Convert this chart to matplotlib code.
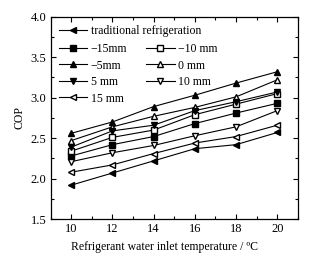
import matplotlib
matplotlib.use("Agg")
import matplotlib.pyplot as plt
from matplotlib.ticker import MultipleLocator

plt.rcParams["font.family"] = "Liberation Serif"
plt.rcParams["font.size"] = 8

temps = [10, 12, 14, 16, 18, 20]

cop_trad = [1.92, 2.07, 2.22, 2.37, 2.42, 2.57]
cop_m15 = [2.28, 2.42, 2.52, 2.68, 2.81, 2.93]
cop_m10 = [2.34, 2.51, 2.60, 2.79, 2.92, 3.05]
cop_m5 = [2.56, 2.70, 2.89, 3.03, 3.18, 3.32]
cop_0 = [2.47, 2.64, 2.77, 2.88, 3.01, 3.22]
cop_5 = [2.39, 2.59, 2.66, 2.84, 2.95, 3.07]
cop_10 = [2.21, 2.32, 2.41, 2.53, 2.64, 2.84]
cop_15 = [2.08, 2.17, 2.31, 2.44, 2.52, 2.66]

labels = ["\u221215mm", "\u221210 mm", "\u22125mm", "0 mm", "5 mm", "10 mm", "15 mm"]

fig = plt.figure(figsize=(3.31, 2.60), dpi=100)
ax = fig.add_axes([0.153, 0.157, 0.747, 0.779])

kw = dict(color="black", lw=0.8, ms=4.5)
(h_trad,) = ax.plot(temps, cop_trad, marker="<", mfc="black", **kw)
(h_m15,) = ax.plot(temps, cop_m15, marker="s", mfc="black", **dict(kw, ms=4))
(h_m10,) = ax.plot(temps, cop_m10, marker="s", mfc="white", **dict(kw, ms=4))
(h_m5,) = ax.plot(temps, cop_m5, marker="^", mfc="black", **kw)
(h_0,) = ax.plot(temps, cop_0, marker="^", mfc="white", **kw)
(h_5,) = ax.plot(temps, cop_5, marker="v", mfc="black", **kw)
(h_10,) = ax.plot(temps, cop_10, marker="v", mfc="white", **kw)
(h_15,) = ax.plot(temps, cop_15, marker="<", mfc="white", **kw)

ax.set_xlim(9, 21)
ax.set_ylim(1.5, 4.0)
ax.xaxis.set_major_locator(MultipleLocator(2))
ax.xaxis.set_minor_locator(MultipleLocator(1))
ax.yaxis.set_minor_locator(MultipleLocator(0.25))
ax.set_yticks([1.5, 2.0, 2.5, 3.0, 3.5, 4.0])
ax.set_yticklabels(["1.5", "2.0", "2.5", "3.0", "3.5", "4.0"])
ax.tick_params(which="both", direction="in", top=True, right=True, labelsize=9, pad=3)
ax.tick_params(which="major", length=3.5, width=0.8)
ax.tick_params(which="minor", length=2, width=0.8)
for s in ax.spines.values():
    s.set_linewidth(0.9)

ax.set_xlabel("Refrigerant water inlet temperature / \u00baC", fontsize=8.5)
ax.xaxis.set_label_coords(0.462, -0.11)
ax.set_ylabel("COP", fontsize=8.5, labelpad=4)

leg1 = ax.legend([h_trad], ["traditional refrigeration"], loc="upper left",
                 bbox_to_anchor=(0.0, 1.0), frameon=False, fontsize=8.5,
                 handlelength=2.4, handletextpad=0.3, borderaxespad=0.3)
ax.add_artist(leg1)
hs = [h_m15, h_m5, h_5, h_15, h_m10, h_0, h_10]
ls = [labels[0], labels[2], labels[4], labels[6], labels[1], labels[3], labels[5]]
ax.legend(hs, ls, loc="upper left", bbox_to_anchor=(0.0, 0.91), ncol=2,
          frameon=False, fontsize=8.5, handlelength=2.4, handletextpad=0.3,
          columnspacing=1.6, labelspacing=0.38, borderaxespad=0.3)

fig.savefig("out.png", dpi=100)
